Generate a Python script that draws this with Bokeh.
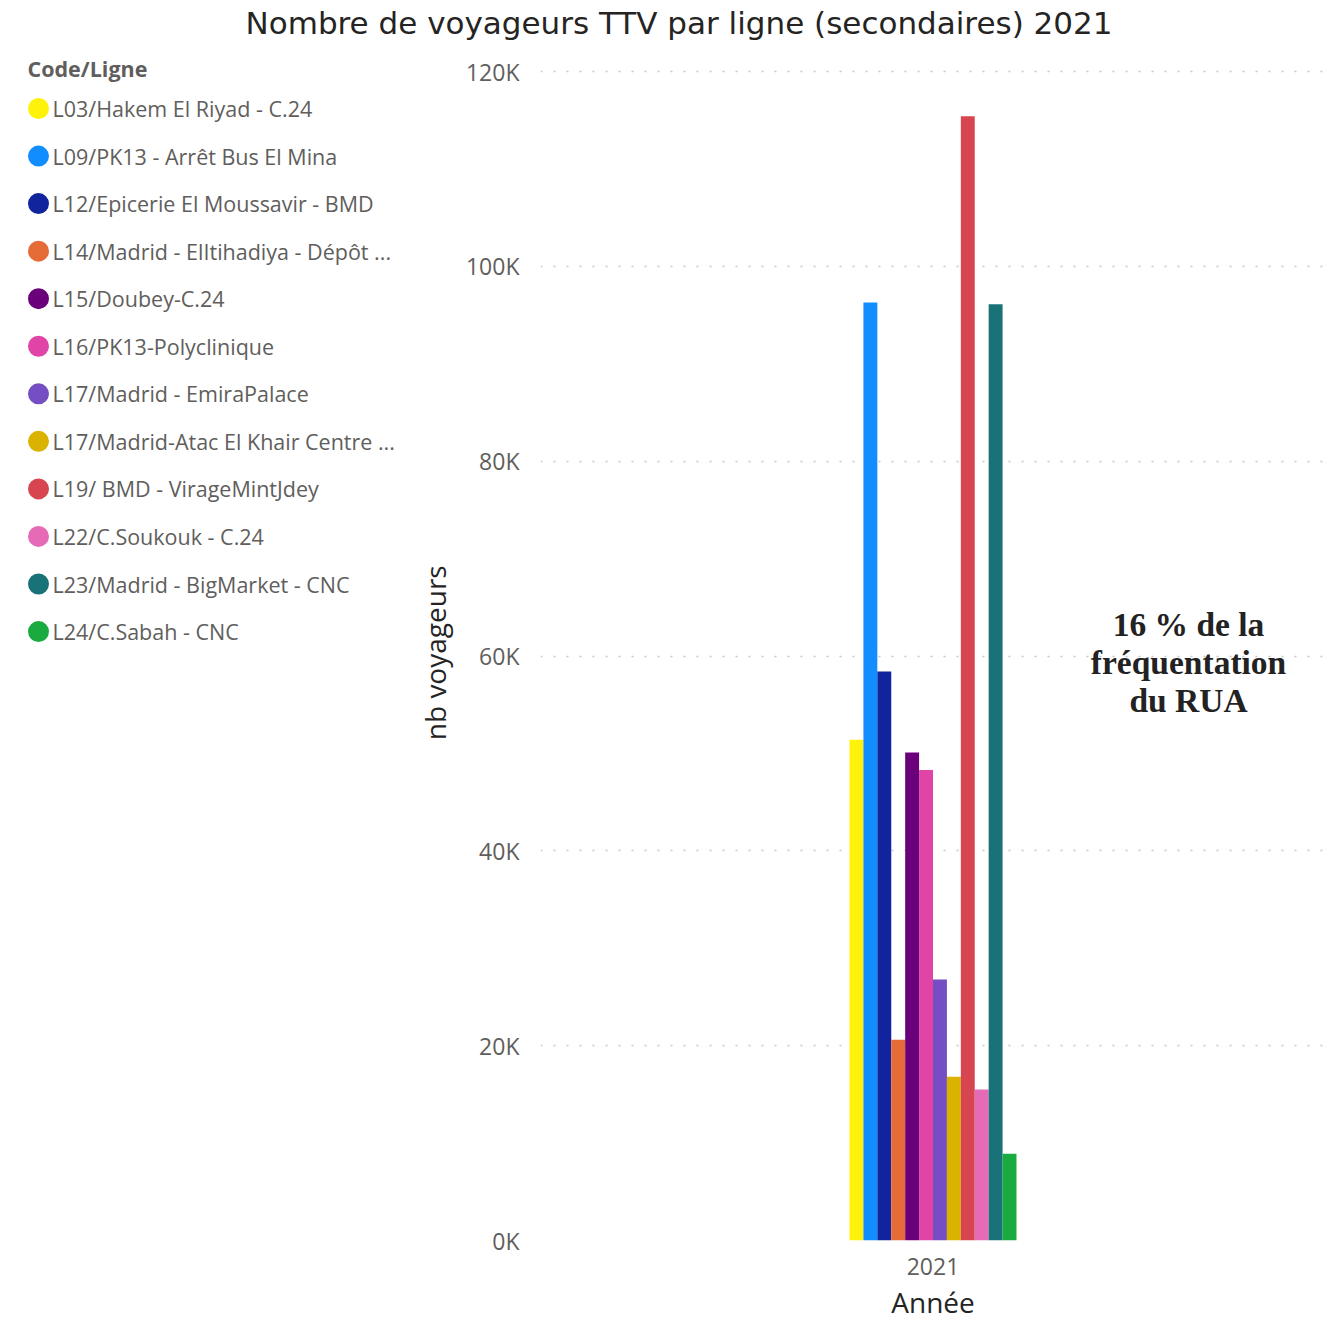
from bokeh.plotting import figure
from bokeh.models import Range1d, FixedTicker, ColumnDataSource
from bokeh.layouts import column, row
from bokeh.embed import file_html
from bokeh.resources import INLINE
from bokeh.core.properties import value

# ---------------- data ----------------
chart_title = "Nombre de voyageurs TTV par ligne (secondaires) 2021"
legend_title = "Code/Ligne"
lignes = [
    "L03/Hakem El Riyad - C.24",
    "L09/PK13 - Arrêt Bus El Mina",
    "L12/Epicerie El Moussavir - BMD",
    "L14/Madrid - ElItihadiya - Dépôt ...",
    "L15/Doubey-C.24",
    "L16/PK13-Polyclinique",
    "L17/Madrid - EmiraPalace",
    "L17/Madrid-Atac El Khair Centre ...",
    "L19/ BMD - VirageMintJdey",
    "L22/C.Soukouk - C.24",
    "L23/Madrid - BigMarket - CNC",
    "L24/C.Sabah  - CNC",
]
voyageurs = [51400, 96300, 58400, 20600, 50100, 48300, 26800, 16800, 115400, 15500, 96100, 8900]
couleurs = ["#FFF20A", "#118DFF", "#12239E", "#E66C37", "#6B007B", "#E044A7",
            "#744EC2", "#D9B300", "#D64550", "#E66BB7", "#197278", "#1AAB40"]
annee = "2021"
y_ticks = [0, 20000, 40000, 60000, 80000, 100000, 120000]
y_tick_labels = ["0K", "20K", "40K", "60K", "80K", "100K", "120K"]
x_axis_title = "Année"
y_axis_title = "nb voyageurs"
note_lines = ["16 % de la", "fréquentation", "du RUA"]

SANS = "Open Sans"
GRAY = "#605E5C"
DARK = "#252423"

TOTAL_W = 1343
TITLE_H = 50
ROW_H = 1277
LEG_W = 408
MAIN_W = TOTAL_W - LEG_W
FRAME_TOP = 50        # page y of frame top
FRAME_BOTTOM = 1240   # page y of frame bottom (value 0)
PX_PER_UNIT = 1169 / 120000.0
Y_TOP = (FRAME_BOTTOM - FRAME_TOP) / PX_PER_UNIT

# ---------------- title figure ----------------
tf = figure(width=TOTAL_W, height=TITLE_H, x_range=Range1d(0, TOTAL_W), y_range=Range1d(TITLE_H, 0),
            toolbar_location=None, output_backend="svg", min_border=0)
tf.axis.visible = False
tf.grid.visible = False
tf.outline_line_color = None
tf.text(x=[678.5], y=[22], text=[chart_title], text_font=value("DejaVu Sans"),
        text_font_size="31px", text_color=DARK, text_align="center", text_baseline="middle")

# ---------------- legend figure ----------------
lf = figure(width=LEG_W, height=ROW_H, x_range=Range1d(0, LEG_W),
            y_range=Range1d(FRAME_BOTTOM, FRAME_TOP),
            toolbar_location=None, output_backend="svg",
            min_border_left=0, min_border_right=0, min_border_top=0, min_border_bottom=87)
lf.axis.visible = False
lf.grid.visible = False
lf.outline_line_color = None
lf.text(x=[27], y=[68], text=[legend_title], text_font=value(SANS), text_font_style="bold",
        text_font_size="21.5px", text_color=GRAY, text_align="left", text_baseline="middle")
n = len(lignes)
leg_y = [108 + i * 47.55 for i in range(n)]
leg_src = ColumnDataSource(dict(y=leg_y, label=lignes, color=couleurs,
                                cx=[38] * n, tx=[52] * n))
lf.scatter(x="cx", y="y", size=21, fill_color="color", line_color=None, source=leg_src)
lf.text(x="tx", y="y", text="label", text_font=value(SANS), text_font_size="21.5px",
        text_color=GRAY, text_align="left", text_baseline="middle", source=leg_src)

# ---------------- main figure ----------------
group_w = 0.2127
bar_w = group_w / n
bar_x = [-group_w / 2 + (i + 0.5) * bar_w for i in range(n)]
src = ColumnDataSource(dict(x=bar_x, top=voyageurs, color=couleurs, ligne=lignes))

p = figure(width=MAIN_W, height=ROW_H, x_range=Range1d(-0.5, 0.5), y_range=Range1d(0, Y_TOP),
           toolbar_location=None, output_backend="svg",
           min_border_left=540 - LEG_W, min_border_right=18, min_border_top=0,
           min_border_bottom=TITLE_H + ROW_H - FRAME_BOTTOM)
p.outline_line_color = None
p.vbar(x="x", top="top", bottom=0, width=bar_w, fill_color="color", line_color=None, source=src)

p.xgrid.visible = False
p.ygrid.ticker = FixedTicker(ticks=y_ticks)
p.ygrid.grid_line_color = "#C8C8C8"
p.ygrid.grid_line_dash = "2 11"
p.ygrid.grid_line_width = 1.5

p.yaxis.ticker = FixedTicker(ticks=y_ticks)
p.yaxis.major_label_overrides = dict(zip(y_ticks, y_tick_labels))
p.xaxis.ticker = FixedTicker(ticks=[0])
p.xaxis.major_label_overrides = {0: annee}
for ax in (p.xaxis[0], p.yaxis[0]):
    ax.axis_line_color = None
    ax.major_tick_line_color = None
    ax.minor_tick_line_color = None
    ax.major_label_text_font = SANS
    ax.major_label_text_font_size = "23px"
    ax.major_label_text_color = GRAY
    ax.axis_label_text_font = SANS
    ax.axis_label_text_font_style = "normal"
    ax.axis_label_text_font_size = "28px"
    ax.axis_label_text_color = DARK
p.yaxis.major_label_standoff = 15
# two non-breaking spaces keep the rotated title centred on the 0-120K span
p.yaxis.axis_label = y_axis_title + "\u00a0\u00a0"
p.yaxis.axis_label_standoff = 9
p.xaxis.major_label_standoff = 11
p.xaxis.axis_label = x_axis_title
p.xaxis.axis_label_standoff = 5

note_y = [63200, 59300, 55400]
p.text(x=[0.3255] * 3, y=note_y, text=note_lines, text_font=value("Liberation Serif"),
       text_font_style="bold", text_font_size="33.5px", text_color="#222222",
       text_align="center", text_baseline="middle")

layout = column(tf, row(lf, p))
open("out.html", "w").write(file_html(layout, INLINE))
